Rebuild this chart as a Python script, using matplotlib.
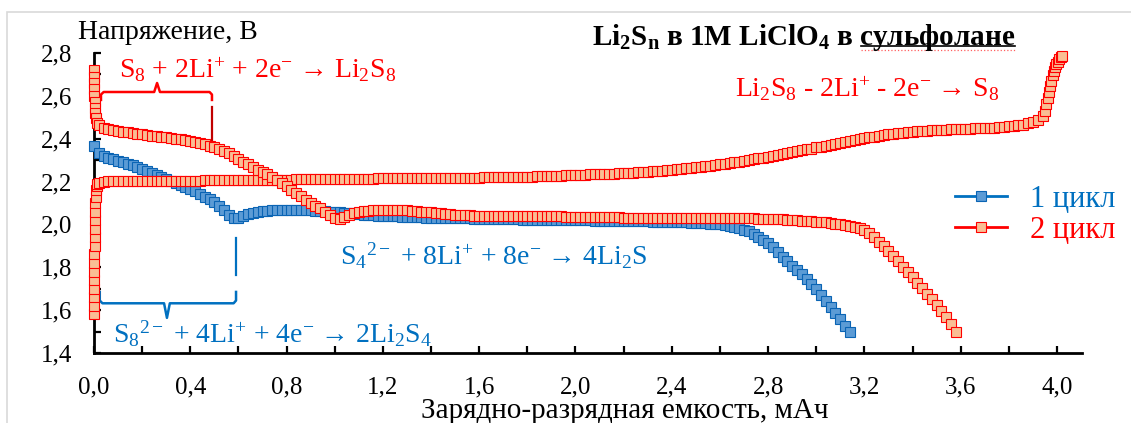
import numpy as np
import matplotlib
matplotlib.use("Agg")
import matplotlib.pyplot as plt
from matplotlib.ticker import MultipleLocator, FuncFormatter
from matplotlib.patches import Rectangle
from matplotlib.lines import Line2D

plt.rcParams['font.family'] = ['Liberation Serif', 'DejaVu Serif']
plt.rcParams['mathtext.fontset'] = 'custom'
plt.rcParams['mathtext.rm'] = 'Liberation Serif'
plt.rcParams['mathtext.it'] = 'Liberation Serif:italic'
plt.rcParams['mathtext.bf'] = 'Liberation Serif:bold'

# --- данные, шаг по емкости 0.02 мАч ---
# 1 цикл, разряд: от 0.00 до 3.14 мАч
v1 = [2.365, 2.335, 2.320, 2.311, 2.304, 2.297, 2.290, 2.283, 2.276, 2.268,
      2.259, 2.250, 2.241, 2.231, 2.221, 2.212, 2.202, 2.193, 2.185, 2.176,
      2.166, 2.155, 2.143, 2.130, 2.117, 2.103, 2.088, 2.068, 2.045, 2.030,
      2.032, 2.041, 2.048, 2.054, 2.058, 2.062, 2.064, 2.065, 2.066, 2.067,
      2.067, 2.067, 2.067, 2.067, 2.066, 2.065, 2.064, 2.063, 2.062, 2.060,
      2.059, 2.057, 2.055, 2.053, 2.051, 2.049, 2.046, 2.044, 2.042, 2.041,
      2.040,
      2.039, 2.038, 2.037, 2.036, 2.035, 2.034, 2.034, 2.033, 2.032, 2.032,
      2.031, 2.031, 2.030, 2.030, 2.029, 2.029, 2.028, 2.028, 2.027, 2.027,
      2.026, 2.026, 2.025, 2.025, 2.024, 2.024, 2.023, 2.023, 2.022, 2.022,
      2.022, 2.021, 2.021, 2.021, 2.020, 2.020, 2.020, 2.020, 2.020, 2.020,
      2.019, 2.019, 2.019, 2.018, 2.018, 2.018, 2.017, 2.017, 2.017, 2.016,
      2.016, 2.015, 2.015, 2.014, 2.014, 2.013, 2.013, 2.012, 2.012, 2.011,
      2.011, 2.010, 2.009, 2.008, 2.007, 2.006, 2.005, 2.004, 2.003, 2.001,
      1.998, 1.994, 1.989, 1.983, 1.976, 1.967, 1.956, 1.943, 1.929, 1.913,
      1.893, 1.870, 1.848, 1.827, 1.807, 1.788, 1.768, 1.746, 1.722, 1.697,
      1.670, 1.643, 1.615, 1.586, 1.557, 1.527, 1.497]

# 2 цикл, разряд: начальный скачок у 0 мАч, затем от 0.02 до 3.58 мАч
dis2_head_x = [0.000, 0.000, 0.001, 0.001, 0.002, 0.003, 0.004, 0.006, 0.008, 0.012]
dis2_head_v = [2.720, 2.690, 2.660, 2.630, 2.600, 2.570, 2.545, 2.520, 2.495, 2.475]
v2_dis = [2.465, 2.452, 2.444, 2.439, 2.435, 2.432, 2.429, 2.426, 2.423, 2.420,
          2.417, 2.414, 2.411, 2.409, 2.406, 2.403, 2.400, 2.397, 2.394, 2.390,
          2.386, 2.382, 2.376, 2.368, 2.360, 2.352, 2.342, 2.331, 2.319, 2.306,
          2.293, 2.280, 2.268, 2.256, 2.244, 2.233, 2.221, 2.208, 2.194, 2.178,
          2.162, 2.146, 2.131, 2.116, 2.102, 2.088, 2.075, 2.060, 2.044, 2.030,
          2.026, 2.036, 2.045, 2.052, 2.057, 2.061, 2.064, 2.066, 2.067, 2.068,
          2.068, 2.068, 2.067, 2.066, 2.065, 2.063, 2.061, 2.059, 2.057, 2.056,
          2.054, 2.052, 2.050, 2.048, 2.046, 2.045, 2.043, 2.042, 2.041, 2.041,
          2.041, 2.041, 2.041, 2.041, 2.041, 2.041, 2.041, 2.041, 2.041, 2.040,
          2.040, 2.039, 2.039, 2.038, 2.038, 2.037, 2.037, 2.036, 2.036, 2.036,
          2.035, 2.035, 2.035, 2.034, 2.034, 2.034, 2.033, 2.033, 2.033, 2.032,
          2.032, 2.032, 2.031, 2.031, 2.031, 2.031, 2.031, 2.031, 2.030, 2.030,
          2.030, 2.030, 2.030, 2.030, 2.030, 2.030, 2.030, 2.029, 2.029, 2.029,
          2.029, 2.029, 2.029, 2.028, 2.028, 2.028, 2.028, 2.027, 2.027, 2.027,
          2.026, 2.025, 2.024, 2.022, 2.021, 2.020, 2.018, 2.017, 2.015, 2.013,
          2.011, 2.009, 2.007, 2.004, 2.001, 1.998, 1.994, 1.989, 1.983, 1.975,
          1.958, 1.940, 1.919, 1.897, 1.874, 1.851, 1.827, 1.803, 1.779, 1.754,
          1.728, 1.702, 1.676, 1.650, 1.623, 1.595, 1.566, 1.535, 1.500]

# 2 цикл, заряд: скачок у 0 мАч, от 0.02 до 3.94 мАч, затем рост до 2.79 В
ch2_head_x = [0.000, 0.000, 0.001, 0.001, 0.001, 0.002, 0.002, 0.002, 0.003,
              0.003, 0.004, 0.004, 0.005, 0.006, 0.007, 0.009, 0.011, 0.014]
ch2_head_v = [1.58, 1.62, 1.66, 1.70, 1.74, 1.78, 1.82, 1.86, 1.90,
              1.94, 1.98, 2.02, 2.06, 2.10, 2.13, 2.16, 2.18, 2.19]
v2_ch = [2.193, 2.198, 2.201, 2.202, 2.203, 2.203, 2.204, 2.204, 2.204, 2.204,
         2.204, 2.204, 2.204, 2.204, 2.204, 2.204, 2.204, 2.204, 2.204, 2.204,
         2.204, 2.204, 2.205, 2.205, 2.205, 2.205, 2.205, 2.206, 2.206, 2.206,
         2.206, 2.206, 2.207, 2.207, 2.207, 2.207, 2.208, 2.208, 2.208, 2.209,
         2.209, 2.210, 2.210, 2.211, 2.211, 2.211, 2.212, 2.212, 2.212, 2.213,
         2.213, 2.213, 2.213, 2.214, 2.214, 2.214, 2.214, 2.214, 2.215, 2.215,
         2.215, 2.215, 2.215, 2.215, 2.215, 2.215, 2.215, 2.215, 2.215, 2.215,
         2.215, 2.215, 2.215, 2.216, 2.216, 2.216, 2.217, 2.217, 2.218, 2.218,
         2.219, 2.219, 2.220, 2.220, 2.220, 2.221, 2.221, 2.222, 2.222, 2.223,
         2.223, 2.224, 2.225, 2.225, 2.226, 2.227, 2.228, 2.229, 2.229, 2.230,
         2.231, 2.232, 2.233, 2.233, 2.234, 2.235, 2.236, 2.237, 2.238, 2.239,
         2.240, 2.241, 2.243, 2.244, 2.246, 2.247, 2.249, 2.251, 2.253, 2.255,
         2.257, 2.259, 2.261, 2.263, 2.266, 2.268, 2.271, 2.274, 2.277, 2.280,
         2.283, 2.286, 2.289, 2.293, 2.296, 2.300, 2.304, 2.308, 2.312, 2.316,
         2.320, 2.324, 2.328, 2.332, 2.336, 2.341, 2.345, 2.350, 2.354, 2.359,
         2.363, 2.368, 2.372, 2.377, 2.381, 2.386, 2.390, 2.394, 2.398, 2.402,
         2.406, 2.410, 2.414, 2.417, 2.420, 2.423, 2.426, 2.428, 2.430, 2.432,
         2.434, 2.436, 2.437, 2.439, 2.440, 2.441, 2.442, 2.443, 2.444, 2.445,
         2.446, 2.447, 2.448, 2.449, 2.450, 2.451, 2.452, 2.453, 2.455, 2.457,
         2.459, 2.462, 2.466, 2.471, 2.478, 2.488, 2.505]
ch2_tail_x = [3.950, 3.956, 3.962, 3.967, 3.972, 3.977, 3.982, 3.987, 3.992,
              3.998, 4.004, 4.010, 4.016, 4.020]
ch2_tail_v = [2.530, 2.560, 2.590, 2.620, 2.645, 2.670, 2.695, 2.715, 2.735,
              2.750, 2.760, 2.770, 2.780, 2.787]

step = 0.02
cap1 = np.round(step * np.arange(len(v1)), 3)
cap2_dis = np.concatenate([dis2_head_x, np.round(step * (np.arange(len(v2_dis)) + 1), 3)])
volt2_dis = np.concatenate([dis2_head_v, v2_dis])
cap2_ch = np.concatenate([ch2_head_x, np.round(step * (np.arange(len(v2_ch)) + 1), 3), ch2_tail_x])
volt2_ch = np.concatenate([ch2_head_v, v2_ch, ch2_tail_v])

blue = '#0070C0'
red = '#FF0000'

W, H = 1131, 423
fig = plt.figure(figsize=(W / 100, H / 100), dpi=100)
ax = fig.add_axes([94 / W, 1 - 353 / H, (1082 - 94) / W, (353 - 53) / H])

# рамка вокруг диаграммы
fig.patches.append(Rectangle((7 / W, -0.05), 1.2, 1 - 12 / H + 0.05, transform=fig.transFigure,
                             fill=False, edgecolor='#D9D9D9', lw=1.2))

mk = dict(marker='s', ms=6.8, mew=0.8, lw=2, clip_on=False)
l1, = ax.plot(cap1, v1, color=blue, mfc='#5B9BD5', mec='#0A64B4', zorder=3, **mk)
ax.plot(cap2_ch, volt2_ch, color=red, mfc='#F9BE94', mec=red, zorder=4, **mk)
l2, = ax.plot(cap2_dis, volt2_dis, color=red, mfc='#F9BE94', mec=red, zorder=5, **mk)

ax.set_xlim(0, 4.104)
ax.set_ylim(1.4, 2.8)
for s in ['top', 'right']:
    ax.spines[s].set_visible(False)
for s in ['left', 'bottom']:
    ax.spines[s].set_linewidth(2)
    ax.spines[s].set_color('black')
ax.xaxis.set_major_locator(MultipleLocator(0.4))
ax.xaxis.set_minor_locator(MultipleLocator(0.2))
ax.yaxis.set_major_locator(MultipleLocator(0.2))
ax.yaxis.set_minor_locator(MultipleLocator(0.1))
fmt = FuncFormatter(lambda v, p: f'{v:.1f}'.replace('.', ','))
ax.xaxis.set_major_formatter(fmt)
ax.yaxis.set_major_formatter(fmt)
ax.tick_params(which='both', direction='in', length=5, width=1.6, labelsize=18)
ax.tick_params(axis='x', pad=17)
ax.tick_params(axis='y', pad=16)

fig.text(78 / W, 1 - 39 / H, 'Напряжение, В', fontsize=20, ha='left', va='baseline')
fig.text(625 / W, 1 - 418 / H, 'Зарядно-разрядная емкость, мАч', fontsize=21,
         ha='center', va='baseline')
fig.text(1015 / W, 1 - 45 / H,
         r'Li$_\mathbf{2}$S$_\mathbf{n}$ в 1М LiClO$_\mathbf{4}$ в сульфолане',
         fontsize=21, fontweight='bold', ha='right', va='baseline')
# подчёркивание в заголовке
fig.add_artist(Line2D([861 / W, 1015 / W], [1 - 46.5 / H] * 2, color='black', lw=1.2))
fig.add_artist(Line2D([861 / W, 1015 / W], [1 - 50 / H] * 2, color='#FF6060', lw=0.9, ls=':'))

# подписи реакций
ax.text(0.104, 2.683, r'S$_8$ + 2Li$^{+}$ + 2e$^{-}$ → Li$_2$S$_8$', color=red,
        fontsize=20, ha='left', va='baseline')
ax.text(2.663, 2.593, r'Li$_2$S$_8$ - 2Li$^{+}$ - 2e$^{-}$ → S$_8$', color=red,
        fontsize=20, ha='left', va='baseline')
ax.text(1.022, 1.811, r'S$_4{}^{2-}$ + 8Li$^{+}$ + 8e$^{-}$ → 4Li$_2$S', color=blue,
        fontsize=20, ha='left', va='baseline')
ax.text(0.079, 1.447, r'S$_8{}^{2-}$ + 4Li$^{+}$ + 4e$^{-}$ → 2Li$_2$S$_4$', color=blue,
        fontsize=20, ha='left', va='baseline')

# фигурные скобки
ax.plot([0.029, 0.029, 0.04, 0.25, 0.262, 0.274, 0.48, 0.49, 0.49],
        [2.581, 2.606, 2.618, 2.618, 2.66, 2.618, 2.618, 2.606, 2.581],
        color=red, lw=1.8, clip_on=False)
ax.plot([0.49, 0.49], [2.548, 2.385], color='#C00000', lw=1.6)
ax.plot([0.024, 0.024, 0.035, 0.291, 0.303, 0.315, 0.58, 0.59, 0.59],
        [1.685, 1.645, 1.632, 1.632, 1.564, 1.632, 1.632, 1.645, 1.685],
        color=blue, lw=1.8)
ax.plot([0.59, 0.59], [1.935, 1.764], color=blue, lw=1.6)

leg = ax.legend([l1, l2], ['1 цикл', '2 цикл'], loc='upper left',
                bbox_to_anchor=(955 / W, 1 - 185 / H), bbox_transform=fig.transFigure,
                frameon=False, fontsize=22, handlelength=1.7, handletextpad=0.75,
                borderpad=0, borderaxespad=0, labelspacing=0.05, numpoints=1)
for t, c in zip(leg.get_texts(), [blue, red]):
    t.set_color(c)

fig.savefig('out.png', dpi=100)
